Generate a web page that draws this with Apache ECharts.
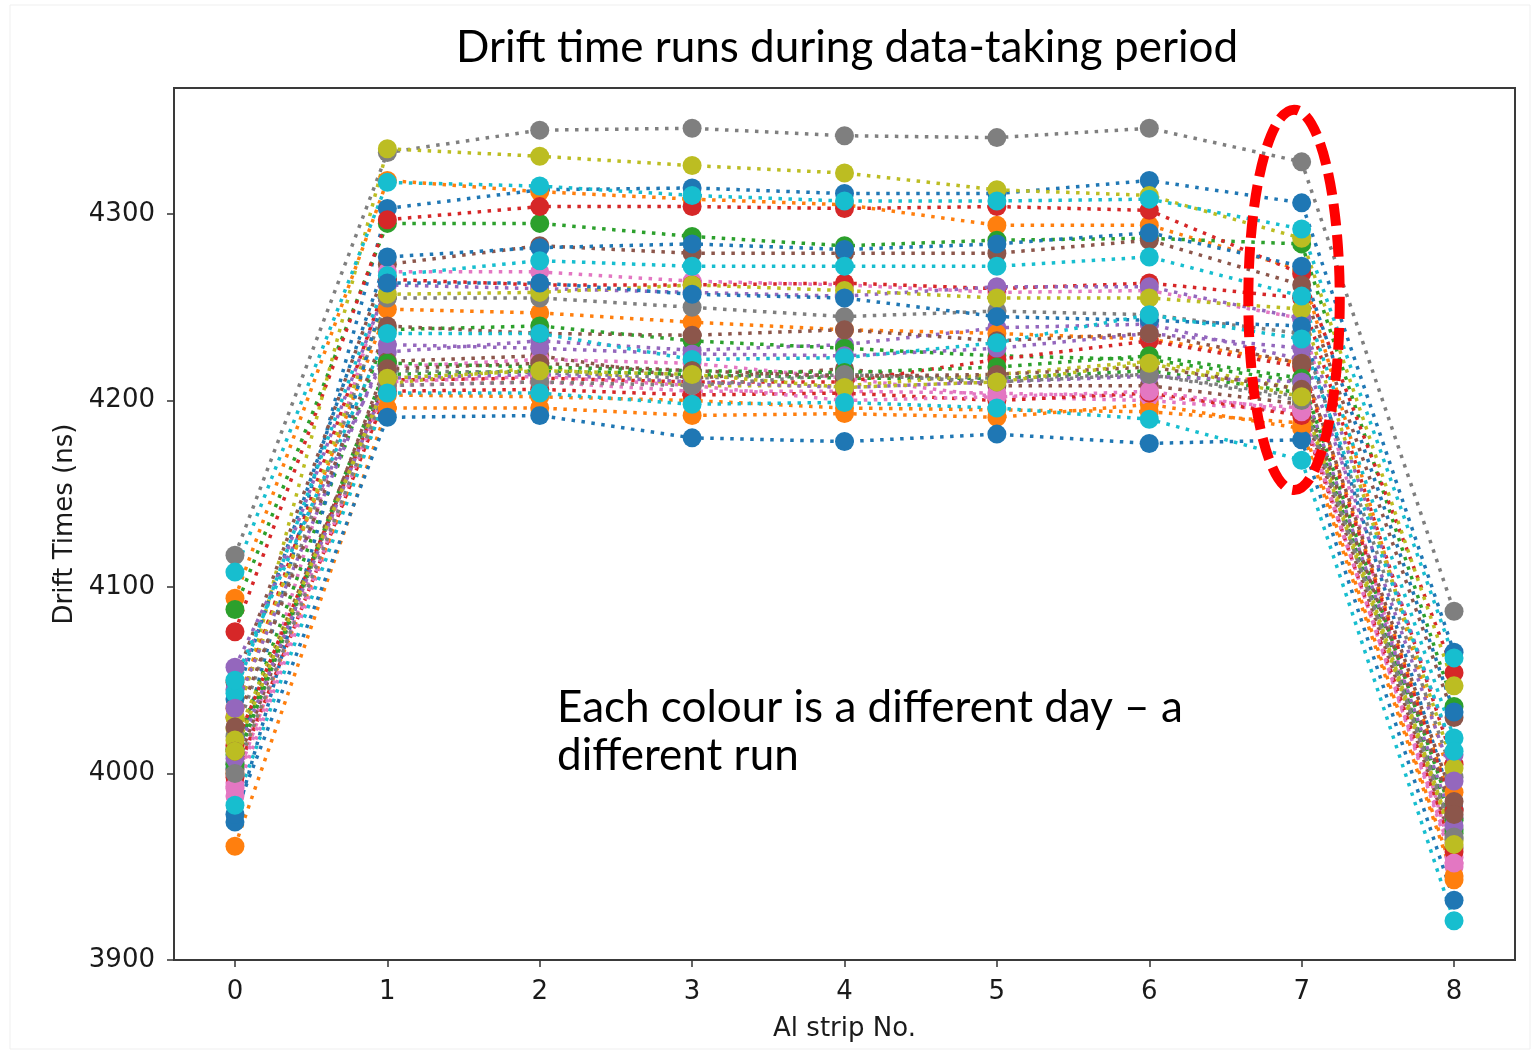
<!DOCTYPE html>
<html>
<head>
<meta charset="utf-8">
<title>Drift time runs during data-taking period</title>
<script src="https://cdn.jsdelivr.net/npm/echarts@6/dist/echarts.min.js"></script>
<style>
  html, body { margin: 0; padding: 0; background: #ffffff; }
  #chart { width: 1533px; height: 1051px; }
</style>
</head>
<body>
<div id="chart"></div>
<script>
// Aluminium strip numbers along the x axis
const strips = [0, 1, 2, 3, 4, 5, 6, 7, 8];
const yTicks = [3900, 4000, 4100, 4200, 4300];

// matplotlib "tab10" colour cycle, one colour per run in order
const palette = ['#1f77b4', '#ff7f0e', '#2ca02c', '#d62728', '#9467bd',
                 '#8c564b', '#e377c2', '#7f7f7f', '#bcbd22', '#17becf'];

// Drift time (ns) per strip, one row per run (day)
const driftTimes = [
  [4003, 4303, 4313, 4314, 4311, 4311, 4318, 4306, 4065],
  [4094, 4318, 4312, 4308, 4305, 4294, 4294, 4270, 3990],
  [4088, 4295, 4295, 4288, 4283, 4286, 4287, 4284, 4036],
  [4076, 4297, 4304, 4304, 4303, 4304, 4302, 4268, 4054],
  [4057, 4226, 4232, 4227, 4230, 4239, 4241, 4222, 3976],
  [4049, 4273, 4283, 4279, 4279, 4279, 4286, 4262, 4030],
  [3992, 4269, 4269, 4264, 4262, 4258, 4259, 4244, 3952],
  [4117, 4333, 4345, 4346, 4342, 4341, 4346, 4328, 4087],
  [4024, 4335, 4331, 4326, 4322, 4313, 4310, 4287, 4047],
  [4108, 4317, 4315, 4310, 4307, 4307, 4308, 4292, 4062],

  [4040, 4277, 4282, 4284, 4281, 4284, 4290, 4272, 4033],
  [4035, 4249, 4247, 4242, 4238, 4236, 4233, 4220, 3981],
  [4013, 4238, 4240, 4232, 4228, 4224, 4222, 4210, 3970],
  [4030, 4265, 4262, 4262, 4263, 4260, 4263, 4255, 4005],
  [4045, 4262, 4260, 4258, 4256, 4261, 4261, 4244, 4010],
  [4002, 4221, 4224, 4212, 4217, 4208, 4208, 4198, 3960],
  [3995, 4218, 4222, 4220, 4212, 4202, 4200, 4194, 3955],
  [4020, 4255, 4255, 4250, 4245, 4248, 4246, 4236, 3998],
  [4030, 4257, 4258, 4262, 4259, 4255, 4255, 4249, 4003],
  [4043, 4267, 4275, 4272, 4272, 4272, 4277, 4256, 4019],

  [3974, 4263, 4263, 4257, 4255, 4245, 4243, 4240, 3981],
  [3961, 4196, 4196, 4192, 4193, 4191, 4198, 4185, 3943],
  [4010, 4214, 4216, 4214, 4212, 4212, 4216, 4204, 3968],
  [4015, 4211, 4212, 4210, 4210, 4222, 4232, 4218, 3980],
  [4035, 4230, 4228, 4225, 4224, 4228, 4236, 4228, 3996],
  [4025, 4240, 4236, 4235, 4238, 4232, 4236, 4220, 3985],
  [3988, 4208, 4210, 4205, 4205, 4204, 4202, 4196, 3950],
  [4005, 4216, 4215, 4212, 4214, 4212, 4214, 4202, 3965],
  [4018, 4209, 4218, 4208, 4208, 4214, 4221, 4206, 3964],
  [4050, 4236, 4236, 4222, 4223, 4231, 4246, 4233, 4012],

  [3978, 4191, 4192, 4180, 4178, 4182, 4177, 4179, 3932],
  [4000, 4203, 4202, 4200, 4196, 4195, 4194, 4188, 3945],
  [4005, 4220, 4218, 4216, 4215, 4218, 4224, 4212, 3975],
  [3998, 4205, 4206, 4203, 4204, 4200, 4204, 4192, 3958],
  [4008, 4212, 4214, 4210, 4207, 4210, 4213, 4210, 3972],
  [4012, 4217, 4220, 4216, 4213, 4214, 4218, 4206, 3978],
  [3993, 4210, 4213, 4208, 4200, 4202, 4205, 4194, 3952],
  [4000, 4208, 4210, 4208, 4214, 4210, 4214, 4200, 3966],
  [4012, 4212, 4216, 4214, 4207, 4210, 4220, 4202, 3962],
  [3983, 4204, 4204, 4198, 4199, 4196, 4190, 4168, 3921]
];

const tickFont = 'DejaVu Sans';
const slideFont = 'Lato';

const chart = echarts.init(document.getElementById('chart'), null, { renderer: 'canvas' });

const series = driftTimes.map((run, i) => ({
  type: 'line',
  name: 'run ' + (i + 1),
  data: strips.map((s, k) => [s, run[k]]),
  symbol: 'circle',
  symbolSize: 19,
  showSymbol: true,
  clip: false,
  color: palette[i % palette.length],
  lineStyle: { width: 3.5, type: [3.5, 6.5], cap: 'butt' },
  itemStyle: { color: palette[i % palette.length], opacity: 1 },
  emphasis: { disabled: true },
  z: 2
}));

chart.setOption({
  animation: false,
  backgroundColor: '#ffffff',
  grid: {
    left: 174, right: 18, top: 88, bottom: 91,
    show: true, borderColor: '#3a3a3a', borderWidth: 2, backgroundColor: '#ffffff'
  },
  xAxis: {
    type: 'value',
    min: -0.4, max: 8.4,
    name: 'Al strip No.',
    nameLocation: 'middle',
    nameGap: 56,
    nameTextStyle: { fontFamily: tickFont, fontSize: 26, color: '#1a1a1a' },
    axisLine: { show: false, onZero: false },
    splitLine: { show: false },
    axisTick: { show: true, inside: false, length: 7, customValues: strips,
                lineStyle: { color: '#333', width: 1.5 } },
    axisLabel: { customValues: strips, margin: 19, formatter: v => String(v),
                 fontFamily: tickFont, fontSize: 26, color: '#1a1a1a' }
  },
  yAxis: {
    type: 'value',
    min: 3900, max: 4367.6,
    name: 'Drift Times (ns)',
    nameLocation: 'middle',
    nameGap: 93,
    nameTextStyle: { fontFamily: tickFont, fontSize: 26, color: '#1a1a1a' },
    axisLine: { show: false, onZero: false },
    splitLine: { show: false },
    axisTick: { show: true, inside: false, length: 7, customValues: yTicks,
                lineStyle: { color: '#333', width: 1.5 } },
    axisLabel: { customValues: yTicks, margin: 19, formatter: v => String(v),
                 padding: [5, 0, 0, 0],
                 fontFamily: tickFont, fontSize: 26, color: '#1a1a1a' }
  },
  series: series,
  graphic: [
    {
      type: 'rect', silent: true, z: -10,
      shape: { x: 10, y: 5, width: 1520, height: 1044 },
      style: { fill: 'none', stroke: '#efefef', lineWidth: 1 }
    },
    {
      type: 'text', silent: true, z: 100,
      style: {
        x: 847, y: 48, text: 'Drift time runs during data-taking period',
        font: '44px ' + slideFont, fill: '#000', textAlign: 'center', textVerticalAlign: 'middle'
      }
    },
    {
      type: 'text', silent: true, z: 100,
      style: {
        x: 557, y: 684, text: 'Each colour is a different day \u2013 a\ndifferent run',
        font: '44px ' + slideFont, lineHeight: 48, fill: '#000',
        textAlign: 'left', textVerticalAlign: 'top'
      }
    }
  ]
});

// Highlight ring around strip 7 placed from data coordinates
const c = chart.convertToPixel({ gridIndex: 0 }, [6.95, 4254]);
const e = chart.convertToPixel({ gridIndex: 0 }, [6.95 + 0.30, 4254 + 102]);
chart.setOption({
  graphic: [{
    type: 'ellipse', id: 'ring', silent: true, z: 120,
    shape: { cx: c[0], cy: c[1], rx: Math.abs(e[0] - c[0]), ry: Math.abs(c[1] - e[1]) },
    style: { fill: 'none', stroke: '#ff0000', lineWidth: 10, lineDash: [22, 9] }
  }]
});
</script>
</body>
</html>
